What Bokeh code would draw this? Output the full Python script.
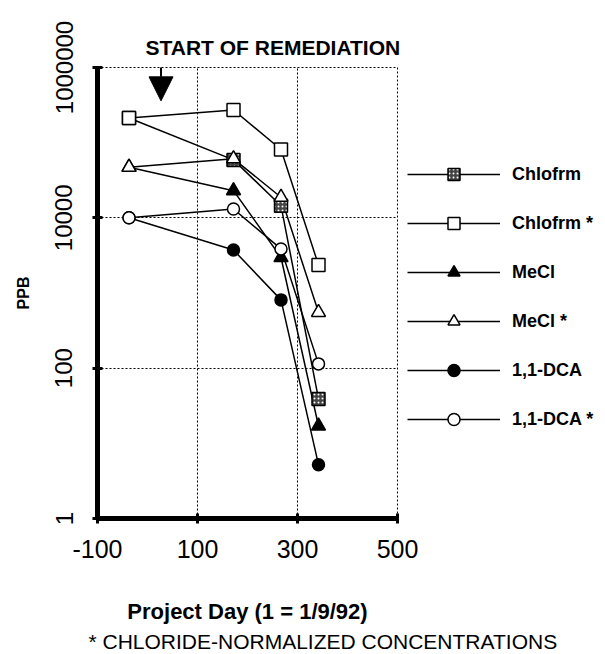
from bokeh.plotting import figure
from bokeh.models import (FixedTicker, NumeralTickFormatter, Legend, LegendItem,
                          Title, Arrow, NormalHead, Range1d)
from bokeh.embed import file_html
from bokeh.resources import INLINE

# ---- data ----
days = [-37, 172, 267, 342]
chlofrm = [213000, 59000, 14500, 39]
chlofrm_norm = [213000, 272000, 81000, 2350]
mecl = [47000, 23000, 2970, 17]
mecl_norm = [47000, 61000, 18800, 553]
dca = [10000, 3730, 810, 5.2]
dca_norm = [10000, 13100, 3860, 114]
series_names = ["Chlofrm", "Chlofrm *", "MeCl", "MeCl *", "1,1-DCA", "1,1-DCA *"]
x_ticks = [-100, 100, 300, 500]
y_ticks = [1, 100, 10000, 1000000]
remediation_day = 27
remediation_arrow_y = [1.25e6, 3.6e5]

FONT = "Liberation Sans"

p = figure(frame_width=300, frame_height=451, x_range=Range1d(-100, 500), y_range=Range1d(1, 1e6),
           y_axis_type="log", output_backend="svg", toolbar_location=None,
           min_border_left=97, min_border_right=200, min_border_top=67, min_border_bottom=128,
           background_fill_color="white", border_fill_color="white")
p.outline_line_color = "black"
p.outline_line_dash = "2 2"
p.outline_line_width = 1

# grid
p.grid.grid_line_color = "black"
p.grid.grid_line_dash = "2 2"
p.grid.grid_line_width = 1

# axes
p.xaxis.ticker = FixedTicker(ticks=x_ticks)
p.yaxis.ticker = FixedTicker(ticks=y_ticks)
p.xaxis.formatter = NumeralTickFormatter(format="0")
p.yaxis.formatter = NumeralTickFormatter(format="0")
for ax in (p.xaxis[0], p.yaxis[0]):
    ax.axis_line_width = 5
    ax.axis_line_color = "black"
    ax.major_tick_line_width = 3
    ax.major_tick_line_color = "black"
    ax.major_tick_in = 5
    ax.major_tick_out = 5
    ax.minor_tick_line_color = None
    ax.major_label_text_font = FONT
    ax.major_label_text_color = "black"
    ax.axis_label_text_font = FONT
    ax.axis_label_text_font_style = "bold"
    ax.axis_label_text_color = "black"
p.yaxis.major_label_text_font_size = "24px"
p.yaxis.major_label_orientation = "vertical"
p.yaxis.major_label_standoff = 20
p.yaxis.axis_label = "PPB"
p.yaxis.axis_label_text_font_size = "16px"
p.yaxis.axis_label_standoff = 21
p.xaxis.major_label_text_font_size = "25px"
p.xaxis.major_label_standoff = 16
p.xaxis.axis_label = "Project Day (1 = 1/9/92)"
p.xaxis.axis_label_text_font_size = "22px"
p.xaxis.axis_label_standoff = 38

series = [chlofrm, chlofrm_norm, mecl, mecl_norm, dca, dca_norm]
styles = [
    dict(marker="square", fill_color="#444444", hatch_pattern="dot", hatch_color="white",
         hatch_scale=4, hatch_weight=1, size=13),
    dict(marker="square", fill_color="white", size=13),
    dict(marker="triangle", fill_color="black", size=14),
    dict(marker="triangle", fill_color="white", size=14),
    dict(marker="circle", fill_color="black", size=12),
    dict(marker="circle", fill_color="white", size=12),
]

lines = []
for vals in series:
    lines.append(p.line(days, vals, line_color="black", line_width=1.5))
marks = []
for vals, st in zip(series, styles):
    marks.append(p.scatter(days, vals, line_color="black", line_width=1.5, **st))

items = [LegendItem(label=n, renderers=[l, m]) for n, l, m in zip(series_names, lines, marks)]
legend = Legend(items=items, location=(10, 84), orientation="vertical",
                glyph_width=93, glyph_height=30, spacing=19, padding=0, margin=0,
                label_standoff=12, label_text_font=FONT, label_text_font_style="bold",
                label_text_font_size="18px", label_text_color="black",
                border_line_color=None, background_fill_alpha=0)
p.add_layout(legend, "right")

top = Title(text="START OF REMEDIATION", align="left", offset=48, text_font=FONT,
            text_font_style="bold", text_font_size="21px", text_color="black", standoff=18)
p.add_layout(top, "above")

note = Title(text="* CHLORIDE-NORMALIZED CONCENTRATIONS", align="left", offset=-9,
             text_font=FONT, text_font_style="normal", text_font_size="21px",
             text_color="black", standoff=2)
p.add_layout(note, "below")

p.add_layout(Arrow(x_start=remediation_day, y_start=remediation_arrow_y[0],
                   x_end=remediation_day, y_end=remediation_arrow_y[1],
                   line_width=2, line_color="black",
                   end=NormalHead(size=24, fill_color="black", line_color="black")))

open("out.html", "w").write(file_html(p, INLINE))
